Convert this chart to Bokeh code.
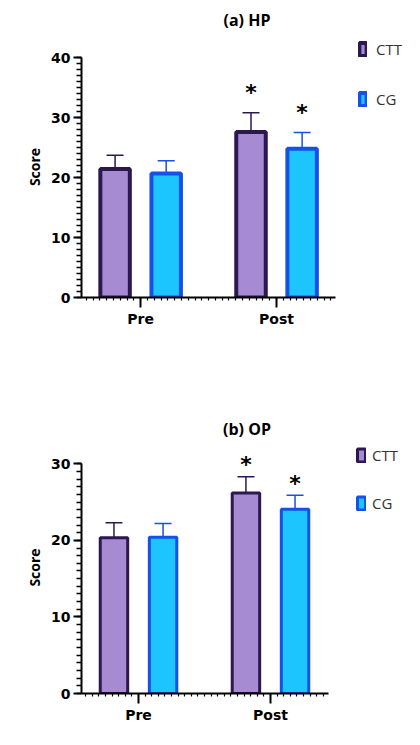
import numpy as np
from bokeh.plotting import figure
from bokeh.models import (ColumnDataSource, Whisker, TeeHead, FixedTicker,
                          Legend, LegendItem, Range1d)
from bokeh.layouts import column
from bokeh.embed import file_html
from bokeh.resources import INLINE
from bokeh.core.properties import value

# ---------------- data ----------------
phases = ["Pre", "Post"]
groups = ["CTT", "CG"]

hp_ctt = [21.4, 27.6]
hp_ctt_sd = [2.3, 3.2]
hp_cg = [20.65, 24.8]
hp_cg_sd = [2.15, 2.7]
hp_ctt_sig = ["", "*"]
hp_cg_sig = ["", "*"]
hp_yticks = [0, 10, 20, 30, 40]

op_ctt = [20.35, 26.2]
op_ctt_sd = [1.95, 2.1]
op_cg = [20.4, 24.05]
op_cg_sd = [1.8, 1.85]
op_ctt_sig = ["", "*"]
op_cg_sig = ["", "*"]
op_yticks = [0, 10, 20, 30]

# ---------------- style ----------------
CTT_FILL, CTT_LINE = "#A68BD3", "#2C1850"
CG_FILL, CG_LINE = "#1DC5FF", "#1550E8"
FONT = "Open Sans"
TICKFONT = "DejaVu Sans"


def panel(title, ctt, ctt_sd, cg, cg_sd, ctt_sig, cg_sig, yticks,
          height, b_left, b_right, b_top, b_bottom, xr, xbounds, ytop,
          off, bw, lw, title_standoff, leg_loc, leg_gw, leg_gh, leg_spacing,
          leg_standoff, star_off):
    p = figure(width=420, height=height, output_backend="svg",
               toolbar_location=None, x_range=Range1d(*xr),
               y_range=Range1d(yticks[0], ytop),
               min_border_left=b_left, min_border_right=b_right,
               min_border_top=b_top, min_border_bottom=b_bottom)
    p.outline_line_color = None
    p.xgrid.visible = False
    p.ygrid.visible = False
    p.background_fill_color = "white"
    p.border_fill_color = "white"

    p.title.text = title
    p.title.align = "center"
    p.title.text_font = FONT
    p.title.text_font_size = "16px"
    p.title.text_font_style = "bold"
    p.title.text_color = "black"
    p.title.standoff = title_standoff

    idx = np.arange(len(phases))
    renderers = []
    for vals, sds, sig, fill, line, sign in [
            (ctt, ctt_sd, ctt_sig, CTT_FILL, CTT_LINE, -1),
            (cg, cg_sd, cg_sig, CG_FILL, CG_LINE, 1)]:
        x = idx + sign * off
        vals = np.array(vals)
        sds = np.array(sds)
        src = ColumnDataSource(dict(x=x, top=vals, upper=vals + sds,
                                    lower=vals - sds, sig=sig))
        r = p.vbar(x="x", top="top", width=bw, source=src, fill_color=fill,
                   line_color=line, line_width=lw)
        renderers.append(r)
        w = Whisker(source=src, base="x", upper="upper", lower="lower",
                    line_color=line, line_width=1.5,
                    upper_head=TeeHead(size=17, line_color=line, line_width=1.5),
                    lower_head=TeeHead(size=17, line_color=line, line_width=1.5))
        p.add_layout(w)
        p.text(x="x", y="upper", text="sig", source=src,
               text_font=value(TICKFONT), text_font_style="bold",
               text_font_size="22px", text_align="center",
               text_baseline="middle", y_offset=star_off, text_color="black")

    # y axis
    ya = p.yaxis[0]
    ya.bounds = (yticks[0], yticks[-1])
    ya.ticker = FixedTicker(ticks=yticks,
                            minor_ticks=list(range(yticks[0], yticks[-1] + 1)))
    ya.axis_label = "Score"
    ya.axis_label_text_font = FONT
    ya.axis_label_text_font_size = "14px"
    ya.axis_label_text_font_style = "bold"
    ya.axis_label_text_color = "black"
    ya.axis_label_standoff = 4
    ya.major_label_text_font = TICKFONT
    ya.major_label_text_font_size = "14px"
    ya.major_label_text_font_style = "bold"
    ya.major_label_text_color = "black"
    ya.major_label_standoff = 3
    ya.axis_line_width = 2
    ya.axis_line_color = "black"
    ya.major_tick_out = 8
    ya.major_tick_in = 0
    ya.major_tick_line_width = 2
    ya.minor_tick_out = 5
    ya.minor_tick_in = 0
    ya.minor_tick_line_width = 1.5

    # x axis
    xa = p.xaxis[0]
    xa.bounds = xbounds
    xa.ticker = FixedTicker(ticks=list(idx),
                            minor_ticks=list(np.arange(-0.4, xbounds[1], 0.05)))
    xa.major_label_overrides = {int(i): ph for i, ph in zip(idx, phases)}
    xa.major_label_text_font = TICKFONT
    xa.major_label_text_font_size = "14px"
    xa.major_label_text_font_style = "bold"
    xa.major_label_text_color = "black"
    xa.major_label_standoff = 3
    xa.axis_line_width = 2
    xa.axis_line_color = "black"
    xa.major_tick_out = 10
    xa.major_tick_in = 0
    xa.major_tick_line_width = 2
    xa.minor_tick_out = 3
    xa.minor_tick_in = 0
    xa.minor_tick_line_width = 1.2

    leg = Legend(items=[LegendItem(label=g, renderers=[r])
                        for g, r in zip(groups, renderers)],
                 location=leg_loc, orientation="vertical",
                 glyph_width=leg_gw, glyph_height=leg_gh, label_height=21,
                 spacing=leg_spacing, label_standoff=leg_standoff,
                 padding=0, margin=0,
                 border_line_color=None, background_fill_alpha=0,
                 label_text_font=FONT, label_text_font_size="15px",
                 label_text_color="#333333", label_text_baseline="middle")
    p.add_layout(leg, "center")
    return p


p1 = panel("(a) HP", hp_ctt, hp_ctt_sd, hp_cg, hp_cg_sd, hp_ctt_sig, hp_cg_sig,
           hp_yticks, height=368, b_left=76, b_right=8, b_top=36, b_bottom=71,
           xr=(-0.435, 2.0), xbounds=(-0.435, 1.435), ytop=43.5,
           off=0.188, bw=0.217, lw=4, title_standoff=12,
           leg_loc=(277, 188), leg_gw=9, leg_gh=16, leg_spacing=29,
           leg_standoff=9, star_off=-20.5)
p2 = panel("(b) OP", op_ctt, op_ctt_sd, op_cg, op_cg_sd, op_ctt_sig, op_cg_sig,
           op_yticks, height=372, b_left=81, b_right=8, b_top=73, b_bottom=47,
           xr=(-0.432, 2.076), xbounds=(-0.432, 1.44), ytop=32.91,
           off=0.186, bw=0.208, lw=3, title_standoff=4,
           leg_loc=(275, 180), leg_gw=10, leg_gh=16, leg_spacing=27,
           leg_standoff=6, star_off=-12)

layout = column(p1, p2, spacing=0)
open("out.html", "w").write(file_html(layout, INLINE))
